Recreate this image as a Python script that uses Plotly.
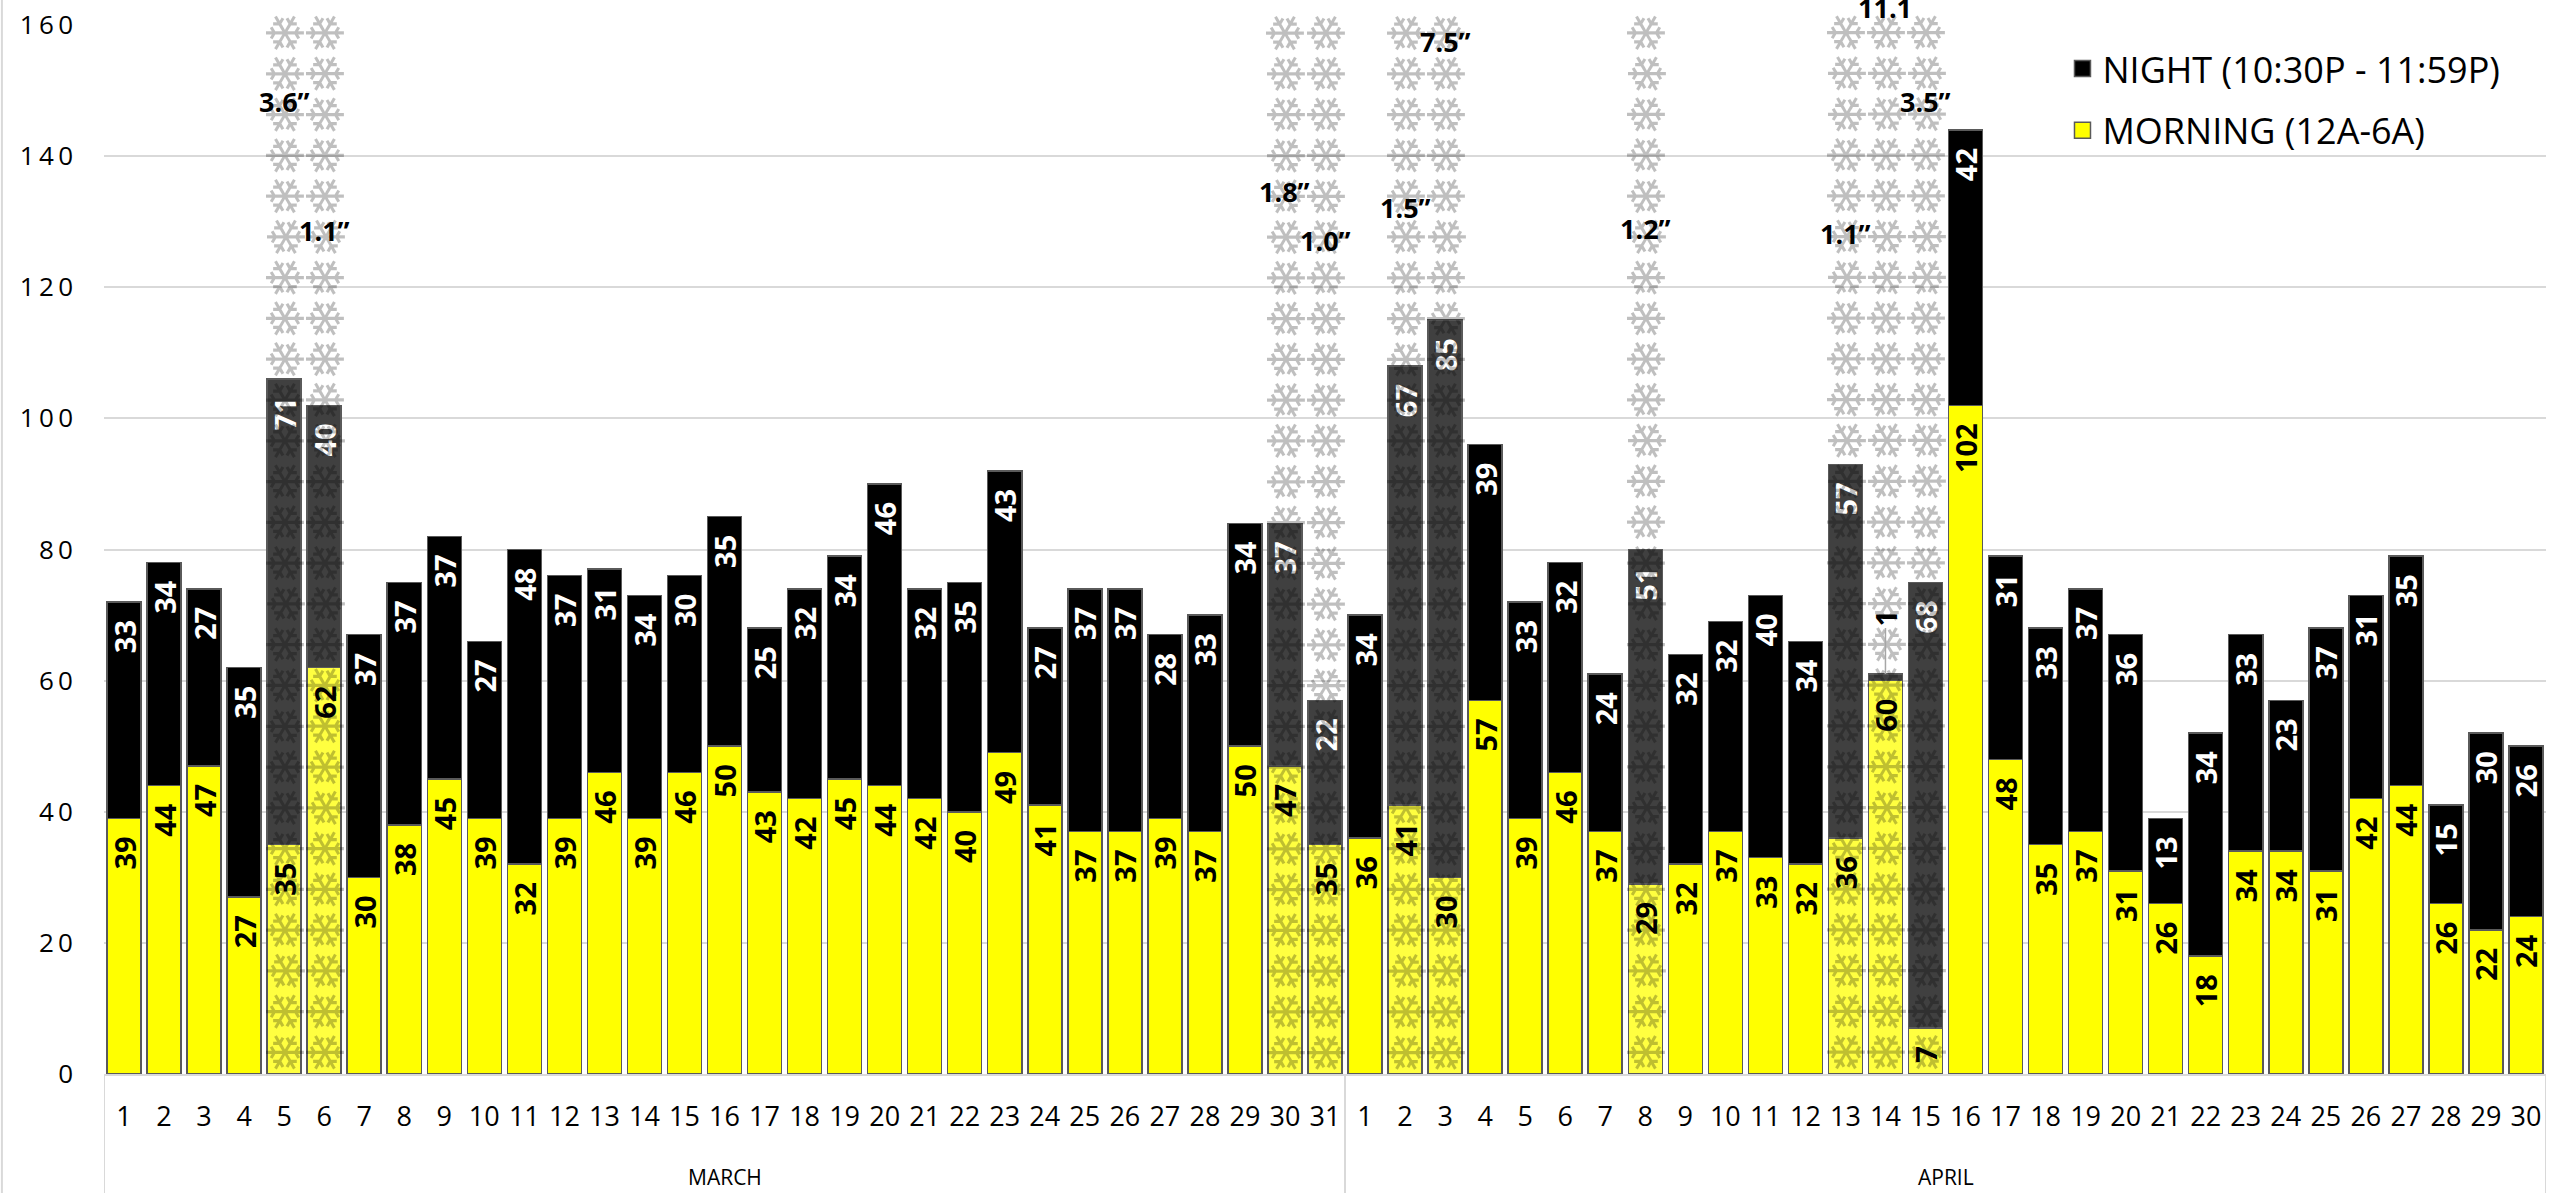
import plotly.graph_objects as go

# ---- data -------------------------------------------------------------
months = ["MARCH", "APRIL"]
march_days = list(range(1, 32))
april_days = list(range(1, 31))

march_morning = [39, 44, 47, 27, 35, 62, 30, 38, 45, 39, 32, 39, 46, 39, 46, 50,
                 43, 42, 45, 44, 42, 40, 49, 41, 37, 37, 39, 37, 50, 47, 35]
march_night = [33, 34, 27, 35, 71, 40, 37, 37, 37, 27, 48, 37, 31, 34, 30, 35,
               25, 32, 34, 46, 32, 35, 43, 27, 37, 37, 28, 33, 34, 37, 22]
april_morning = [36, 41, 30, 57, 39, 46, 37, 29, 32, 37, 33, 32, 36, 60, 7, 102,
                 48, 35, 37, 31, 26, 18, 34, 34, 31, 42, 44, 26, 22, 24]
april_night = [34, 67, 85, 39, 33, 32, 24, 51, 32, 32, 40, 34, 57, 1, 68, 42,
               31, 33, 37, 36, 13, 34, 33, 23, 37, 31, 35, 15, 30, 26]

# snowfall days and amounts
snow_days = [("MARCH", 5), ("MARCH", 6), ("MARCH", 30), ("MARCH", 31),
             ("APRIL", 2), ("APRIL", 3), ("APRIL", 8),
             ("APRIL", 13), ("APRIL", 14), ("APRIL", 15)]
snow_amounts = ["3.6”", "1.1”", "1.8”", "1.0”", "1.5”", "7.5”", "1.2”",
                "1.1”", "11.1", "3.5”"]

series_names = ["NIGHT (10:30P - 11:59P)", "MORNING (12A-6A)"]
series_colors = ["#000000", "#ffff00"]

# ---- layout constants -------------------------------------------------
snow_label_heights = [148.4, 128.7, 134.6, 127.1, 132.2, 157.5, 129.0, 128.2, 162.6, 148.4]
flake_rows = [3.2 + 6.22 * k for k in range(26)]
Y_MAX = 160
LABEL_FONT = "Open Sans"

# ---- assemble ---------------------------------------------------------
day_keys = [("MARCH", d) for d in march_days] + [("APRIL", d) for d in april_days]
days = march_days + april_days
morning = march_morning + april_morning
night = march_night + april_night
x_idx = list(range(len(days)))
is_snow = [k in snow_days for k in day_keys]

morning_colors = ["#ffff40" if s else series_colors[1] for s in is_snow]
night_colors = ["#404040" if s else series_colors[0] for s in is_snow]

NBSP = "\u00a0"
morning_text = [f"{v}{NBSP*2}" for v in morning]
# very short segments get an outside callout instead of an inside label
night_text = [f"{v}{NBSP*2}" if v >= 5 else "" for v in night]

fig = go.Figure()

fig.add_trace(go.Bar(
    x=x_idx, y=morning, name=series_names[1], showlegend=False,
    marker=dict(color=morning_colors, line=dict(color="#5a5a5a", width=1.5)),
    text=morning_text, textposition="inside", insidetextanchor="end",
    textangle=-90, textfont=dict(family=LABEL_FONT, size=29, color="#000000", weight="bold"),
    hoverinfo="skip",
))
fig.add_trace(go.Bar(
    x=x_idx, y=night, name=series_names[0], showlegend=False,
    marker=dict(color=night_colors, line=dict(color="#5a5a5a", width=1.5)),
    text=night_text, textposition="inside", insidetextanchor="end",
    textangle=-90, textfont=dict(family=LABEL_FONT, size=29, color="#ffffff", weight="bold"),
    hoverinfo="skip",
))

# legend keys with square swatches
for rank, (name, col) in enumerate(zip(series_names, series_colors)):
    fig.add_trace(go.Scatter(
        x=[None], y=[None], mode="markers", name=name, legendrank=rank + 1,
        legendgroup=f"g{rank}",
        marker=dict(symbol="square", size=22, color=col, line=dict(color="#5a5a5a", width=1.5)),
        hoverinfo="skip",
    ))

annotations = []
snow_idx = [day_keys.index(k) for k in snow_days]

# snowflake columns laid over every snow day (turned so the arms link sideways)
for i in snow_idx:
    for r in flake_rows:
        annotations.append(dict(
            x=i, y=r, xref="x", yref="y", text="❄", textangle=90, showarrow=False,
            font=dict(family="DejaVu Sans", size=52, color="rgba(0,0,0,0.25)"),
        ))

# snowfall amounts
for i, amt, h in zip(snow_idx, snow_amounts, snow_label_heights):
    annotations.append(dict(
        x=i, y=h / Y_MAX, xref="x", yref="paper", yanchor="middle", xanchor="center",
        text=amt, showarrow=False,
        font=dict(family=LABEL_FONT, size=27, color="#000000", weight="bold"),
    ))
# callouts for segments too short to hold their label
for i, (m, n) in enumerate(zip(morning, night)):
    if n < 5:
        annotations.append(dict(
            x=i, y=m + n, xref="x", yref="y", text=str(n), textangle=-90,
            showarrow=True, arrowhead=0, arrowwidth=1.5, arrowcolor="#a6a6a6",
            ax=0, ay=-56, standoff=0,
            font=dict(family=LABEL_FONT, size=29, color="#000000", weight="bold"),
        ))
# month group labels and dividers
start = 0
shapes = []
month_lengths = [len(march_days), len(april_days)]
for name, n in zip(months, month_lengths):
    annotations.append(dict(
        x=start + (n - 1) / 2, y=-0.098, xref="x", yref="paper", text=name,
        showarrow=False, yanchor="middle",
        font=dict(family=LABEL_FONT, size=21, color="#000000"),
    ))
    shapes.append(dict(type="line", xref="x", yref="paper", x0=start - 0.5, x1=start - 0.5,
                       y0=0, y1=-0.2, line=dict(color="#d9d9d9", width=2)))
    start += n
shapes.append(dict(type="line", xref="x", yref="paper", x0=start - 0.5, x1=start - 0.5,
                   y0=0, y1=-0.2, line=dict(color="#d9d9d9", width=2)))
# outer chart border on the left
shapes.append(dict(type="line", xref="paper", yref="paper", x0=-0.0418, x1=-0.0418,
                   y0=-0.2, y1=1.1, line=dict(color="#d9d9d9", width=2)))

ytick_vals = list(range(0, Y_MAX + 1, 20))
ytick_text = ["\u2009".join(str(v)) for v in ytick_vals]

fig.update_layout(
    width=2552, height=1193,
    margin=dict(l=104, r=6, t=21, b=119),
    paper_bgcolor="white", plot_bgcolor="white",
    barmode="stack", bargap=0.15,
    uniformtext=dict(minsize=29, mode="show"),
    font=dict(family=LABEL_FONT, color="#000000"),
    xaxis=dict(
        range=[-0.5, len(days) - 0.5], tickmode="array", tickvals=x_idx,
        ticktext=[str(d) for d in days], tickfont=dict(size=27, color="#000000"),
        showgrid=False, zeroline=False, showline=True, linecolor="#d9d9d9", linewidth=2,
        ticks="", ticklabelstandoff=18,
    ),
    yaxis=dict(
        range=[0, Y_MAX], tickmode="array", tickvals=ytick_vals, ticktext=ytick_text,
        tickfont=dict(size=26, color="#000000"), showgrid=True, gridcolor="#d9d9d9",
        gridwidth=1.5, zeroline=False, showline=False, ticks="", ticklabelstandoff=30,
    ),
    legend=dict(
        x=0.802, y=0.987, xanchor="left", yanchor="top", traceorder="grouped",
        itemsizing="trace", tracegroupgap=12, bgcolor="rgba(0,0,0,0)",
        font=dict(family=LABEL_FONT, size=36, color="#000000"),
    ),
    annotations=annotations, shapes=shapes,
    showlegend=True,
)

fig.write_html("out.html")
